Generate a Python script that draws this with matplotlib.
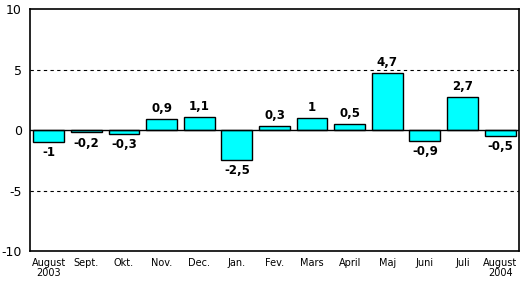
import matplotlib
matplotlib.use("Agg")
import matplotlib.pyplot as plt

categories = ["August\n2003", "Sept.", "Okt.", "Nov.", "Dec.", "Jan.", "Fev.", "Mars",
              "April", "Maj", "Juni", "Juli", "August\n2004"]
values = [-1, -0.2, -0.3, 0.9, 1.1, -2.5, 0.3, 1, 0.5, 4.7, -0.9, 2.7, -0.5]
yticks = [-10, -5, 0, 5, 10]

fig = plt.figure(figsize=(5.24, 2.83), dpi=100)
ax = fig.add_axes([0.0573, 0.113, 0.933, 0.855])
x = list(range(len(values)))
ax.bar(x, values, width=0.82, color="#00FFFF", edgecolor="black", linewidth=1, zorder=3)
ax.set_xlim(-0.5, len(values) - 0.5)
ax.set_ylim(-10, 10)
ax.set_yticks(yticks)
ax.set_yticklabels([str(t) for t in yticks], fontsize=9)
ax.set_xticks(x)
ax.set_xticklabels(categories, fontsize=7, linespacing=1.0)
ax.tick_params(length=0, pad=5)
ax.tick_params(axis="y", pad=6)
for yv in (5, -5):
    ax.axhline(yv, color="black", linestyle=(0, (3, 3)), linewidth=0.8, zorder=1)
ax.axhline(0, color="black", linewidth=1, zorder=4)
for s in ax.spines.values():
    s.set_linewidth(1.2)
for xi, v in zip(x, values):
    lab = ("%g" % v).replace(".", ",")
    if v >= 0:
        ax.annotate(lab, (xi, v), xytext=(0, 3), textcoords="offset points",
                    ha="center", va="bottom", fontsize=8.5, fontweight="bold")
    else:
        ax.annotate(lab, (xi, v), xytext=(0, -3), textcoords="offset points",
                    ha="center", va="top", fontsize=8.5, fontweight="bold")
fig.savefig("out.png", dpi=100)
